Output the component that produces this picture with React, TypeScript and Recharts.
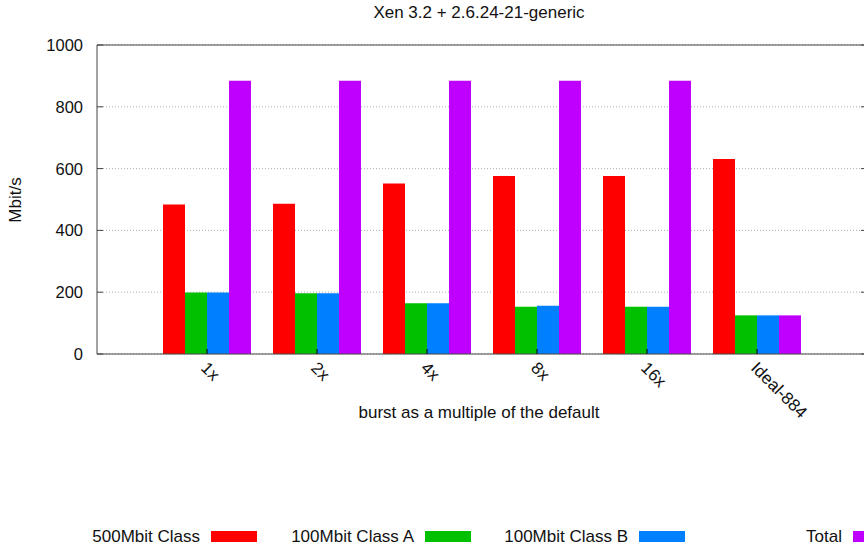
import React from 'react'
import { BarChart, Bar, XAxis, YAxis, CartesianGrid, ReferenceLine } from 'recharts'

const categories = ['1x', '2x', '4x', '8x', '16x', 'Ideal-884']
const class500 = [484, 486, 552, 576, 576, 631]
const classA = [199, 197, 164, 153, 153, 125]
const classB = [199, 197, 164, 156, 153, 125]
const total = [884, 884, 884, 884, 884, 125]
const yTicks = [0, 200, 400, 600, 800, 1000]

const seriesNames = ['500Mbit Class', '100Mbit Class A', '100Mbit Class B', 'Total']
const seriesKeys = ['c500', 'cA', 'cB', 'total']
const colors = ['#ff0000', '#00c000', '#0080ff', '#c000ff']

const data = categories.map((name, i) => ({
  name,
  c500: class500[i],
  cA: classA[i],
  cB: classB[i],
  total: total[i],
}))

const FONT = '"Liberation Sans", Arial, Helvetica, sans-serif'
const AXIS = '#444'
const PLOT_W = 770

function YTick({ x, y, payload }: any) {
  const left = x + 14
  return (
    <g>
      <line x1={left} y1={y} x2={left + 6} y2={y} stroke={AXIS} />
      <line x1={left + PLOT_W - 6} y1={y} x2={left + PLOT_W} y2={y} stroke={AXIS} />
      <text x={x} y={y} dy="0.36em" textAnchor="end" fontFamily={FONT} fontSize={16.5} fill="#111">
        {payload.value}
      </text>
    </g>
  )
}

function XTick({ x, y, payload }: any) {
  const tx = x - 7
  const ty = y + 15
  return (
    <g>
      <line x1={x} y1={y - 5} x2={x} y2={y} stroke="#000" />
      <text x={tx} y={ty} transform={`rotate(45, ${tx}, ${ty})`} textAnchor="start" fontFamily={FONT} fontSize={17} fill="#111">
        {payload.value}
      </text>
    </g>
  )
}

export default function App() {
  return (
    <div style={{ position: 'absolute', left: 0, top: 0, width: 864, height: 545, overflow: 'hidden', background: '#fff', fontFamily: FONT }}>
      <BarChart
        width={880}
        height={545}
        data={data}
        margin={{ top: 45, right: 13, bottom: 131, left: 0 }}
        barCategoryGap="10%"
        barGap={0}
      >
        <CartesianGrid vertical={false} stroke="#b0b0b0" strokeDasharray="1 2" />
        <XAxis
          dataKey="name"
          height={60}
          padding={{ left: 55, right: 55 }}
          axisLine={{ stroke: AXIS }}
          tickLine={false}
          tickSize={0}
          tickMargin={0}
          interval={0}
          tick={<XTick />}
        />
        <YAxis
          domain={[0, 1000]}
          ticks={yTicks}
          width={97}
          axisLine={{ stroke: AXIS }}
          tickLine={false}
          tickSize={0}
          tickMargin={14}
          tick={<YTick />}
        />
        <ReferenceLine y={1000} stroke={AXIS} />
        {seriesKeys.map((k, i) => (
          <Bar key={k} dataKey={k} name={seriesNames[i]} fill={colors[i]} isAnimationActive={false} />
        ))}
      </BarChart>

      <div style={{ position: 'absolute', left: 0, top: 3, width: 958, textAlign: 'center', fontSize: 17, color: '#111', lineHeight: '20px' }}>
        Xen 3.2 + 2.6.24-21-generic
      </div>
      <div
        style={{
          position: 'absolute', left: 16, top: 200, transform: 'translate(-50%, -50%) rotate(-90deg)',
          fontSize: 17, color: '#111', whiteSpace: 'nowrap', lineHeight: '20px',
        }}
      >
        Mbit/s
      </div>
      <div style={{ position: 'absolute', left: 0, top: 403, width: 958, textAlign: 'center', fontSize: 17, color: '#111', lineHeight: '20px' }}>
        burst as a multiple of the default
      </div>

      {seriesNames.map((n, i) => (
        <div key={n} style={{ position: 'absolute', top: 527, left: 211 + i * 214 - 200, width: 246, height: 20 }}>
          <span style={{ position: 'absolute', right: 57, top: 0, fontSize: 17, lineHeight: '20px', color: '#111', whiteSpace: 'nowrap' }}>{n}</span>
          <span style={{ position: 'absolute', right: 0, top: 4, width: 46, height: 11, background: colors[i] }} />
        </div>
      ))}
    </div>
  )
}
